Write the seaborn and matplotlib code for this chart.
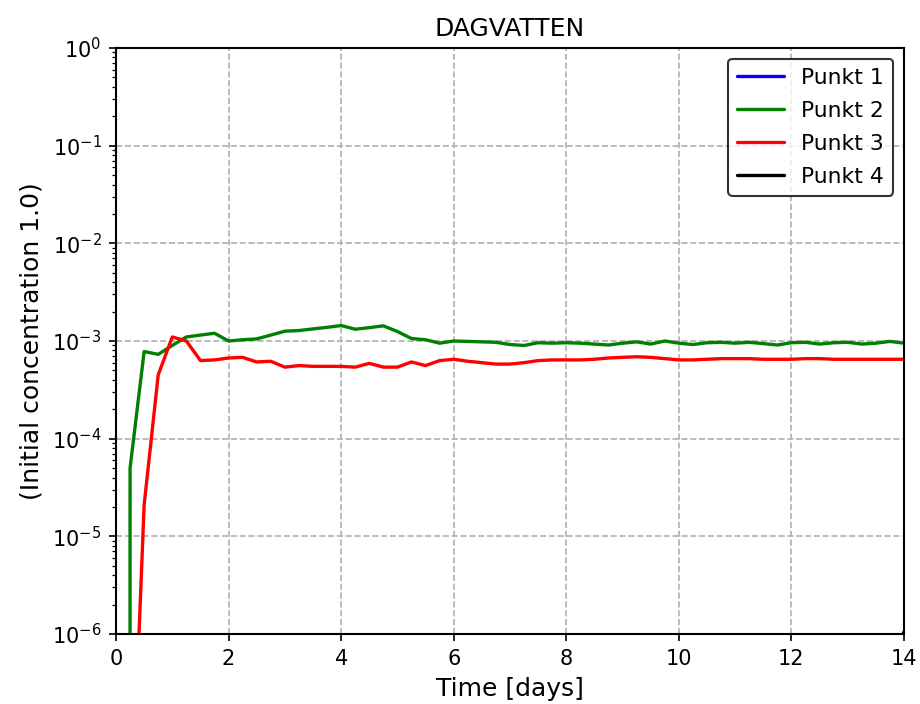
import matplotlib
matplotlib.use("Agg")
import matplotlib.pyplot as plt
import seaborn as sns
import pandas as pd
import numpy as np

time_days = [0.0, 0.25, 0.5, 0.75, 1.0, 1.25, 1.5, 1.75, 2.0, 2.25, 2.5, 2.75,
             3.0, 3.25, 3.5, 3.75, 4.0, 4.25, 4.5, 4.75, 5.0, 5.25, 5.5, 5.75,
             6.0, 6.25, 6.5, 6.75, 7.0, 7.25, 7.5, 7.75, 8.0, 8.25, 8.5, 8.75,
             9.0, 9.25, 9.5, 9.75, 10.0, 10.25, 10.5, 10.75, 11.0, 11.25, 11.5,
             11.75, 12.0, 12.25, 12.5, 12.75, 13.0, 13.25, 13.5, 13.75, 14.0]

punkt1 = [0.0] * 57

punkt2 = [0.0, 5.0e-5, 7.8e-4, 7.3e-4, 9.0e-4, 1.1e-3, 1.15e-3, 1.2e-3, 1.0e-3,
          1.03e-3, 1.05e-3, 1.15e-3, 1.26e-3, 1.28e-3, 1.33e-3, 1.38e-3, 1.44e-3,
          1.32e-3, 1.37e-3, 1.43e-3, 1.25e-3, 1.06e-3, 1.03e-3, 0.95e-3, 1.0e-3,
          0.99e-3, 0.98e-3, 0.97e-3, 0.92e-3, 0.90e-3, 0.96e-3, 0.95e-3, 0.96e-3,
          0.95e-3, 0.93e-3, 0.91e-3, 0.95e-3, 0.98e-3, 0.93e-3, 1.0e-3, 0.95e-3,
          0.92e-3, 0.96e-3, 0.97e-3, 0.95e-3, 0.97e-3, 0.94e-3, 0.91e-3, 0.96e-3,
          0.97e-3, 0.93e-3, 0.96e-3, 0.97e-3, 0.93e-3, 0.95e-3, 0.99e-3, 0.95e-3]

punkt3 = [0.0, 5e-9, 2.1e-5, 4.5e-4, 1.1e-3, 1.0e-3, 6.3e-4, 6.4e-4, 6.7e-4,
          6.8e-4, 6.1e-4, 6.2e-4, 5.4e-4, 5.6e-4, 5.5e-4, 5.5e-4, 5.5e-4,
          5.4e-4, 5.9e-4, 5.4e-4, 5.4e-4, 6.1e-4, 5.6e-4, 6.3e-4, 6.5e-4,
          6.2e-4, 6.0e-4, 5.8e-4, 5.8e-4, 6.0e-4, 6.3e-4, 6.4e-4, 6.4e-4,
          6.4e-4, 6.5e-4, 6.7e-4, 6.8e-4, 6.9e-4, 6.8e-4, 6.6e-4, 6.4e-4,
          6.4e-4, 6.5e-4, 6.6e-4, 6.6e-4, 6.6e-4, 6.5e-4, 6.5e-4, 6.5e-4,
          6.6e-4, 6.6e-4, 6.5e-4, 6.5e-4, 6.5e-4, 6.5e-4, 6.5e-4, 6.5e-4]

punkt4 = [0.0] * 54 + [2e-7, 5e-7, 1.05e-6]

series_names = ["Punkt 1", "Punkt 2", "Punkt 3", "Punkt 4"]
series_colors = ["blue", "green", "red", "black"]

sns.set_style("ticks")
plt.rcParams.update({
    "font.family": ["DejaVu Sans"],
    "axes.edgecolor": "black",
    "xtick.color": "black",
    "ytick.color": "black",
    "text.color": "black",
    "axes.labelcolor": "black",
})

frames = []
for name, vals in zip(series_names, [punkt1, punkt2, punkt3, punkt4]):
    frames.append(pd.DataFrame({"Time": time_days, "Conc": vals, "Punkt": name}))
df = pd.concat(frames, ignore_index=True)

fig = plt.figure(figsize=(920 / 150, 704 / 150), dpi=150)
ax = fig.add_axes([116 / 920, 1 - 634 / 704, (904 - 116) / 920, (634 - 48) / 704])

sns.lineplot(data=df, x="Time", y="Conc", hue="Punkt",
             palette=dict(zip(series_names, series_colors)),
             linewidth=1.6, ax=ax, sort=False, estimator=None, legend=True)

ax.set_yscale("log")
ax.set_ylim(1e-6, 1)
ax.set_xlim(0, 14)
ax.set_xticks([0, 2, 4, 6, 8, 10, 12, 14])
ax.grid(True, which="major", linestyle="--", color="#b0b0b0", linewidth=0.8)
for s in ax.spines.values():
    s.set_visible(True)
    s.set_color("black")
    s.set_linewidth(1.0)

ax.tick_params(axis="both", which="major", labelsize=10, direction="out", length=3.5)
ax.tick_params(axis="y", which="minor", direction="out", length=2)
ax.set_xlabel("Time [days]", fontsize=12)
ax.set_ylabel("(Initial concentration 1.0)", fontsize=12)
ax.set_title("DAGVATTEN", fontsize=12)

handles, labels = ax.get_legend_handles_labels()
leg = ax.legend(handles, labels, loc="upper right", fontsize=10.5, frameon=True,
                fancybox=True, edgecolor="black", framealpha=0.8,
                labelspacing=0.6, handlelength=2.15, borderaxespad=0.5)

fig.savefig("out.png", dpi=150)
